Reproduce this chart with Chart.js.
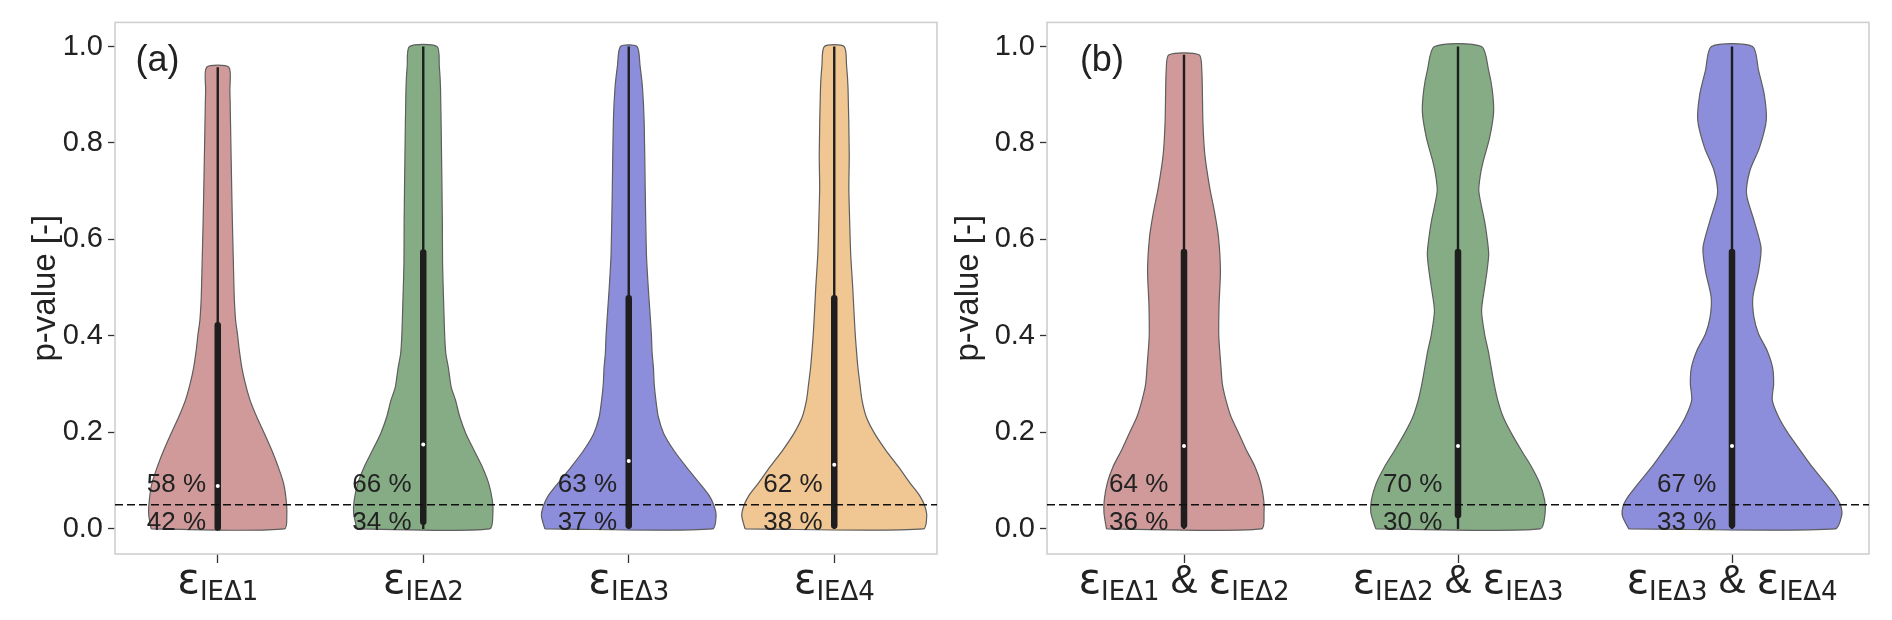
<!DOCTYPE html>
<html><head><meta charset="utf-8">
<script src="https://cdn.jsdelivr.net/npm/chart.js@4.4.1/dist/chart.umd.min.js"></script>
<style>
html,body{margin:0;padding:0;background:#fff;}
#wrap{position:relative;width:1892px;height:620px;background:#fff;}
canvas{position:absolute;top:0;}
#ca{left:0;} #cb{left:945px;}
</style></head><body>
<div id="wrap"><canvas id="ca" width="945" height="620"></canvas><canvas id="cb" width="947" height="620"></canvas></div>
<script>
// ---------- data ----------
const yTickValues = [0, 0.2, 0.4, 0.6, 0.8, 1.0];
const threshold = 0.05;
const catsA = ['IEΔ1', 'IEΔ2', 'IEΔ3', 'IEΔ4'];
const catsB = [['IEΔ1', 'IEΔ2'], ['IEΔ2', 'IEΔ3'], ['IEΔ3', 'IEΔ4']];
const aboveA = [58, 66, 63, 62];
const belowA = [42, 34, 37, 38];
const aboveB = [64, 70, 67];
const belowB = [36, 30, 33];
// box stats per violin: [min, q1, median, q3, max]
const statsA = [[0, 0.003, 0.089, 0.422, 0.957], [0, 0.015, 0.175, 0.573, 1.0], [0, 0.007, 0.141, 0.478, 1.0], [0, 0.007, 0.133, 0.478, 1.0]];
const statsB = [[0, 0.008, 0.172, 0.574, 0.983], [0, 0.029, 0.172, 0.574, 1.0], [0, 0.008, 0.172, 0.574, 1.0]];
// density profiles: p-value levels and half-widths (category units)
const a1Y = [0, 0.03, 0.06, 0.095, 0.13, 0.163, 0.198, 0.232, 0.267, 0.30, 0.335, 0.37, 0.404, 0.432, 0.473, 0.50, 0.57, 0.64, 0.75, 0.844, 0.91, 0.957];
const a1W = [0.324, 0.336, 0.333, 0.32, 0.293, 0.263, 0.227, 0.19, 0.157, 0.135, 0.117, 0.105, 0.096, 0.087, 0.081, 0.079, 0.075, 0.071, 0.066, 0.062, 0.059, 0.054];
const a2Y = [0, 0.033, 0.06, 0.095, 0.129, 0.163, 0.198, 0.232, 0.267, 0.294, 0.335, 0.363, 0.404, 0.473, 0.55, 0.638, 0.776, 0.914, 0.96, 1.0];
const a2W = [0.323, 0.339, 0.336, 0.318, 0.287, 0.247, 0.207, 0.178, 0.157, 0.136, 0.122, 0.11, 0.104, 0.099, 0.094, 0.093, 0.089, 0.084, 0.078, 0.067];
const a3Y = [0, 0.027, 0.048, 0.068, 0.095, 0.129, 0.163, 0.198, 0.232, 0.267, 0.30, 0.335, 0.363, 0.404, 0.45, 0.50, 0.57, 0.707, 0.844, 0.914, 0.96, 1.0];
const a3W = [0.408, 0.425, 0.415, 0.393, 0.344, 0.279, 0.219, 0.17, 0.144, 0.132, 0.124, 0.12, 0.114, 0.11, 0.103, 0.095, 0.086, 0.08, 0.075, 0.067, 0.055, 0.040];
const a4Y = [0, 0.027, 0.048, 0.068, 0.095, 0.129, 0.163, 0.198, 0.232, 0.267, 0.30, 0.335, 0.37, 0.404, 0.45, 0.50, 0.57, 0.638, 0.707, 0.776, 0.914, 0.96, 1.0];
const a4W = [0.434, 0.45, 0.44, 0.417, 0.369, 0.312, 0.251, 0.196, 0.156, 0.135, 0.125, 0.115, 0.108, 0.102, 0.096, 0.09, 0.08, 0.075, 0.071, 0.073, 0.067, 0.06, 0.048];
const b1Y = [0, 0.033, 0.06, 0.095, 0.129, 0.163, 0.198, 0.232, 0.267, 0.30, 0.335, 0.40, 0.466, 0.535, 0.604, 0.652, 0.707, 0.776, 0.844, 0.95, 0.983];
const b1W = [0.283, 0.292, 0.291, 0.28, 0.259, 0.228, 0.2, 0.172, 0.153, 0.14, 0.135, 0.127, 0.128, 0.133, 0.126, 0.113, 0.094, 0.076, 0.069, 0.065, 0.055];
const b2Y = [0, 0.033, 0.06, 0.095, 0.129, 0.163, 0.198, 0.232, 0.267, 0.30, 0.335, 0.37, 0.404, 0.452, 0.50, 0.535, 0.57, 0.604, 0.638, 0.70, 0.735, 0.762, 0.81, 0.864, 0.91, 0.95, 1.0];
const b2W = [0.30, 0.318, 0.316, 0.298, 0.268, 0.231, 0.195, 0.165, 0.145, 0.132, 0.121, 0.11, 0.097, 0.086, 0.097, 0.106, 0.112, 0.106, 0.097, 0.076, 0.082, 0.092, 0.115, 0.13, 0.125, 0.112, 0.086];
const b3Y = [0, 0.027, 0.048, 0.068, 0.095, 0.129, 0.163, 0.198, 0.232, 0.267, 0.301, 0.335, 0.37, 0.404, 0.439, 0.48, 0.535, 0.583, 0.638, 0.694, 0.742, 0.79, 0.847, 0.90, 0.95, 1.0];
const b3W = [0.377, 0.40, 0.397, 0.378, 0.341, 0.292, 0.249, 0.205, 0.17, 0.147, 0.152, 0.148, 0.128, 0.097, 0.08, 0.076, 0.097, 0.106, 0.081, 0.053, 0.065, 0.10, 0.125, 0.118, 0.097, 0.075];

const colorsA = ['#D09A9A', '#85AC85', '#8C8DDB', '#F0C692'];
const colorsB = ['#D09A9A', '#85AC85', '#8C8DDB'];

// ---------- build ----------
Chart.defaults.font.family = '"Liberation Sans", Arial, sans-serif';
Chart.defaults.color = '#222';

function buildDatasets(profiles, stats, colors) {
  const ds = [];
  profiles.forEach((p, i) => {
    const ys = p[0], ws = p[1];
    const pts = [];
    for (let k = 0; k < ys.length; k++) pts.push({x: i - ws[k], y: ys[k]});
    for (let k = ys.length - 1; k >= 0; k--) pts.push({x: i + ws[k], y: ys[k]});
    pts.push({x: pts[0].x, y: pts[0].y});
    ds.push({data: pts, showLine: true, fill: 'shape', backgroundColor: colors[i], borderColor: '#5e5e5e',
      borderWidth: 1.2, pointRadius: 0, tension: 0.25, order: 10});
  });
  stats.forEach((s, i) => {
    ds.push({data: [{x: i, y: s[0]}, {x: i, y: s[4]}], showLine: true, borderColor: '#1e1e1e', borderWidth: 2.4, pointRadius: 0, order: 8});
    ds.push({data: [{x: i, y: s[1]}, {x: i, y: s[3]}], showLine: true, borderColor: '#1e1e1e', borderWidth: 6.5, borderCapStyle: 'round', pointRadius: 0, order: 7});
    ds.push({data: [{x: i, y: s[2]}], showLine: false, pointRadius: 2, pointBackgroundColor: '#ffffff', pointBorderWidth: 0, order: 6});
  });
  ds.push({data: [{x: -0.5, y: threshold}, {x: stats.length - 0.5, y: threshold}], showLine: true, borderColor: '#111',
    borderWidth: 1.6, borderDash: [8, 4], pointRadius: 0, order: 1});
  return ds;
}

const annotPlugin = {
  id: 'annot',
  beforeDatasetsDraw(chart) {
    const {ctx, chartArea: ca} = chart;
    ctx.save();
    ctx.strokeStyle = '#cfcfcf';
    ctx.lineWidth = 1.6;
    ctx.strokeRect(ca.left, ca.top, ca.right - ca.left, ca.bottom - ca.top);
    ctx.restore();
  },
  afterDraw(chart, args, o) {
    const {ctx, chartArea: ca, scales: {x, y}} = chart;
    ctx.save();
    // percent labels
    ctx.fillStyle = '#222';
    ctx.font = '26px "Liberation Sans", Arial, sans-serif';
    ctx.textAlign = 'right';
    ctx.textBaseline = 'middle';
    o.above.forEach((v, i) => ctx.fillText(v + ' %', x.getPixelForValue(i - 0.057), y.getPixelForValue(0.091)));
    o.below.forEach((v, i) => ctx.fillText(v + ' %', x.getPixelForValue(i - 0.057), y.getPixelForValue(0.012)));
    // panel label
    ctx.font = '36px "Liberation Sans", Arial, sans-serif';
    ctx.textAlign = 'left';
    ctx.fillText(o.panel, x.getPixelForValue(o.panelX), y.getPixelForValue(0.97));
    // category labels: epsilon with subscript
    ctx.textBaseline = 'alphabetic';
    const epsFont = '42px "DejaVu Sans", sans-serif';
    const subFont = '26px "DejaVu Sans", sans-serif';
    const ampFont = '40px "Liberation Sans", Arial, sans-serif';
    o.cats.forEach((c, i) => {
      const subs = Array.isArray(c) ? c : [c];
      const pieces = [];
      subs.forEach((s, k) => {
        if (k > 0) pieces.push({t: ' & ', f: ampFont, dy: 0});
        pieces.push({t: 'ε', f: epsFont, dy: 0});
        pieces.push({t: s, f: subFont, dy: 7});
      });
      let total = 0;
      pieces.forEach(p => { ctx.font = p.f; p.w = ctx.measureText(p.t).width; total += p.w; });
      let px = x.getPixelForValue(i) - total / 2;
      const base = ca.bottom + 39;
      pieces.forEach(p => { ctx.font = p.f; ctx.fillText(p.t, px, base + p.dy); px += p.w; });
    });
    ctx.restore();
  }
};

function makeChart(id, datasets, n, yWidth, titlePad, rightPad, annot) {
  return new Chart(document.getElementById(id), {
    type: 'scatter',
    data: {datasets},
    plugins: [annotPlugin],
    options: {
      responsive: false,
      animation: false,
      events: [],
      layout: {padding: {top: 21, right: rightPad, left: 0, bottom: 0}},
      plugins: {legend: {display: false}, tooltip: {enabled: false}, annot},
      scales: {
        x: {
          type: 'linear', min: -0.5, max: n - 0.5,
          afterBuildTicks: s => { s.ticks = Array.from({length: n}, (_, i) => ({value: i})); },
          afterFit: s => { s.height = 66; },
          ticks: {display: false},
          grid: {display: true, drawOnChartArea: false, drawTicks: true, tickLength: 9, tickColor: '#333', tickWidth: 1.3},
          border: {display: false}
        },
        y: {
          type: 'linear', min: -0.052, max: 1.05,
          afterBuildTicks: s => { s.ticks = yTickValues.map(v => ({value: v})); },
          afterFit: s => { s.width = yWidth; },
          ticks: {font: {size: 29}, color: '#222', padding: 5, callback: v => Number(v).toFixed(1)},
          grid: {display: true, drawOnChartArea: false, drawTicks: true, tickLength: 7, tickColor: '#333', tickWidth: 1.3},
          border: {display: false},
          title: {display: true, text: 'p-value [-]', font: {size: 33}, color: '#222', padding: {top: titlePad, bottom: 0}}
        }
      }
    }
  });
}

makeChart('ca', buildDatasets([[a1Y, a1W], [a2Y, a2W], [a3Y, a3W], [a4Y, a4W]], statsA, colorsA), 4, 115, 26, 8,
  {above: aboveA, below: belowA, cats: catsA, panel: '(a)', panelX: -0.40});
makeChart('cb', buildDatasets([[b1Y, b1W], [b2Y, b2W], [b3Y, b3W]], statsB, colorsB), 3, 102, 4, 23,
  {above: aboveB, below: belowB, cats: catsB, panel: '(b)', panelX: -0.38});
</script>
</body></html>
